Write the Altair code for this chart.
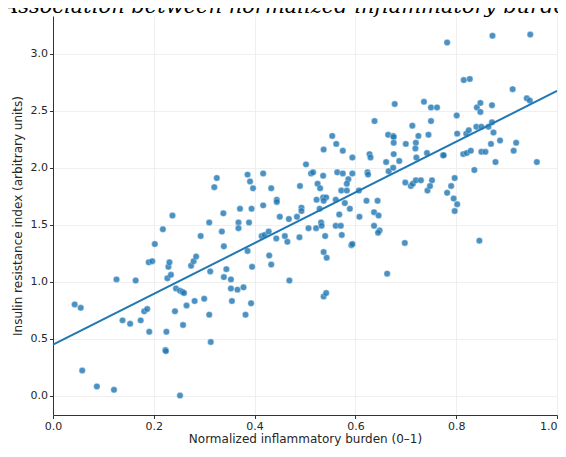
import altair as alt
import pandas as pd

TITLE = "Association between normalized inflammatory burden and insulin resistance"

# Normalized inflammatory burden (x) and insulin resistance index (y)
burden = [
    0.043, 0.055, 0.058, 0.087, 0.121, 0.126, 0.138, 0.153, 0.164, 0.174,
    0.181, 0.187, 0.190, 0.197, 0.191, 0.202, 0.218, 0.223, 0.224, 0.225,
    0.227, 0.234, 0.229, 0.231, 0.237, 0.242, 0.244, 0.252, 0.257, 0.260,
    0.252, 0.258, 0.265, 0.274, 0.279, 0.284, 0.281, 0.293, 0.300, 0.310,
    0.310, 0.312, 0.313, 0.320, 0.325, 0.335, 0.338, 0.339, 0.344, 0.339,
    0.353, 0.353, 0.355, 0.366, 0.378, 0.368, 0.368, 0.371, 0.389, 0.386,
    0.391, 0.397, 0.394, 0.386, 0.395, 0.393, 0.382, 0.417, 0.417, 0.433,
    0.444, 0.444, 0.414, 0.420, 0.428, 0.443, 0.429, 0.433, 0.450, 0.468,
    0.460, 0.465, 0.469, 0.484, 0.490, 0.489, 0.493, 0.493, 0.502, 0.512,
    0.516, 0.507, 0.525, 0.530, 0.536, 0.537, 0.554, 0.562, 0.575, 0.594,
    0.564, 0.575, 0.594, 0.586, 0.583, 0.572, 0.583, 0.607, 0.523, 0.536,
    0.542, 0.537, 0.561, 0.529, 0.579, 0.589, 0.568, 0.608, 0.622, 0.644,
    0.637, 0.646, 0.522, 0.532, 0.533, 0.540, 0.561, 0.571, 0.573, 0.592,
    0.594, 0.537, 0.543, 0.537, 0.542, 0.637, 0.648, 0.645, 0.663, 0.624,
    0.625, 0.628, 0.630, 0.638, 0.661, 0.666, 0.675, 0.687, 0.678, 0.676,
    0.665, 0.675, 0.676, 0.676, 0.700, 0.713, 0.720, 0.719, 0.725, 0.721,
    0.742, 0.745, 0.736, 0.750, 0.762, 0.750, 0.699, 0.710, 0.714, 0.720,
    0.730, 0.743, 0.752, 0.748, 0.774, 0.775, 0.782, 0.790, 0.797, 0.795,
    0.802, 0.797, 0.782, 0.801, 0.802, 0.815, 0.827, 0.820, 0.825, 0.840,
    0.850, 0.864, 0.871, 0.841, 0.848, 0.848, 0.871, 0.874, 0.814, 0.821,
    0.829, 0.850, 0.858, 0.836, 0.869, 0.878, 0.887, 0.872, 0.912, 0.914,
    0.919, 0.940, 0.946, 0.947, 0.960, 0.698, 0.846,
]
insulin = [
    0.80, 0.77, 0.22, 0.08, 0.05, 1.02, 0.66, 0.63, 1.01, 0.66,
    0.74, 0.76, 1.17, 1.18, 0.56, 1.33, 1.46, 0.40, 0.39, 0.56,
    1.03, 1.06, 1.13, 1.17, 1.58, 0.74, 0.94, 0.92, 0.91, 0.90,
    0.00, 0.62, 0.79, 1.14, 1.18, 1.22, 0.83, 1.40, 0.85, 1.52,
    0.71, 1.09, 0.47, 1.83, 1.91, 1.44, 1.60, 1.31, 1.11, 1.04,
    1.02, 0.94, 0.83, 0.93, 0.95, 1.52, 1.47, 1.64, 1.52, 1.94,
    1.88, 1.82, 1.64, 1.27, 1.13, 0.81, 0.71, 1.95, 1.67, 1.82,
    1.72, 1.70, 1.40, 1.41, 1.44, 1.38, 1.23, 1.15, 1.57, 1.55,
    1.40, 1.35, 1.01, 1.57, 1.84, 1.39, 1.65, 1.62, 2.03, 1.95,
    1.96, 1.47, 1.86, 1.82, 1.93, 2.16, 2.28, 2.21, 2.15, 2.09,
    1.96, 1.95, 1.95, 1.90, 1.86, 1.80, 1.80, 1.80, 1.72, 1.74,
    1.74, 1.71, 1.72, 1.64, 1.69, 1.64, 1.59, 1.57, 1.71, 1.71,
    1.61, 1.58, 1.47, 1.52, 1.49, 1.40, 1.49, 1.49, 1.41, 1.32,
    1.33, 1.26, 1.21, 0.87, 0.90, 1.49, 1.45, 1.43, 1.07, 1.96,
    1.94, 2.12, 2.09, 2.41, 2.05, 1.97, 2.00, 2.06, 2.56, 2.12,
    2.29, 2.28, 2.27, 2.22, 2.21, 2.37, 2.22, 2.17, 2.28, 2.09,
    2.13, 2.29, 2.58, 2.53, 2.53, 2.41, 1.87, 1.84, 1.86, 1.89,
    1.89, 1.80, 1.89, 1.84, 2.11, 2.11, 1.78, 1.84, 1.91, 1.73,
    1.68, 1.62, 3.10, 2.46, 2.30, 2.77, 2.78, 2.30, 2.33, 2.36,
    2.36, 2.36, 2.40, 2.53, 2.57, 2.49, 2.55, 2.31, 2.12, 2.13,
    2.15, 2.14, 2.14, 1.98, 2.21, 2.05, 2.24, 3.16, 2.69, 2.15,
    2.22, 2.61, 2.59, 3.17, 2.05, 1.34, 1.36,
]

# Fitted line (value at x = 0 and x = 1)
fit_x = [0.0, 1.0]
fit_y = [0.447, 2.675]

points_df = pd.DataFrame({"burden": burden, "insulin": insulin})
fit_df = pd.DataFrame({"burden": fit_x, "insulin": fit_y})
title_df = pd.DataFrame({"t": [TITLE]})

x_scale = alt.Scale(domain=[0, 1], nice=False, zero=False)
y_scale = alt.Scale(domain=[-0.171, 3.333], nice=False, zero=False)

x_axis = alt.Axis(
    title="Normalized inflammatory burden (0–1)",
    values=[0.0, 0.2, 0.4, 0.6, 0.8, 1.0],
    format=".1f",
    labelFlush=False,
    labelAlign=alt.ExprRef(expr="datum.value >= 1 ? 'right' : 'center'"),
)
y_axis = alt.Axis(
    title="Insulin resistance index (arbitrary units)",
    values=[0.0, 0.5, 1.0, 1.5, 2.0, 2.5, 3.0],
    format=".1f",
)

pts = alt.Chart(points_df).mark_circle(
    size=42, color="#1f77b4", opacity=0.8, stroke="white", strokeWidth=0.4
).encode(
    x=alt.X("burden:Q", scale=x_scale, axis=x_axis),
    y=alt.Y("insulin:Q", scale=y_scale, axis=y_axis),
)

line = alt.Chart(fit_df).mark_line(color="#1f77b4", strokeWidth=2).encode(
    x=alt.X("burden:Q", scale=x_scale),
    y=alt.Y("insulin:Q", scale=y_scale),
)

# Chart title (the reference shows it cropped at the top edge)
title_mark = alt.Chart(title_df).mark_text(
    align="left",
    baseline="alphabetic",
    font="DejaVu Serif",
    fontStyle="italic",
    fontSize=21,
    color="#000000",
).encode(
    text="t:N",
    x=alt.value(-50),
    y=alt.value(-3),
)

chart = (
    alt.layer(pts, line, title_mark)
    .properties(
        width=504,
        height=399,
        autosize=alt.AutoSizeParams(type="none"),
        padding={"left": 45, "top": 8, "right": 1, "bottom": 33},
    )
    .configure_view(stroke=None)
    .configure_axis(
        labelFont="DejaVu Sans",
        titleFont="DejaVu Sans",
        labelFontSize=11,
        titleFontSize=12,
        titleFontWeight="normal",
        labelColor="#262626",
        titleColor="#262626",
        domainColor="#333333",
        domainWidth=1,
        tickColor="#333333",
        tickSize=3.5,
        tickWidth=1,
        labelPadding=2,
        gridColor="#ebebeb",
        gridWidth=0.8,
    )
    .configure_axisX(titlePadding=2)
    .configure_axisY(titlePadding=6)
)

chart.save("out.html", embed_options={"renderer": "svg", "actions": False})
